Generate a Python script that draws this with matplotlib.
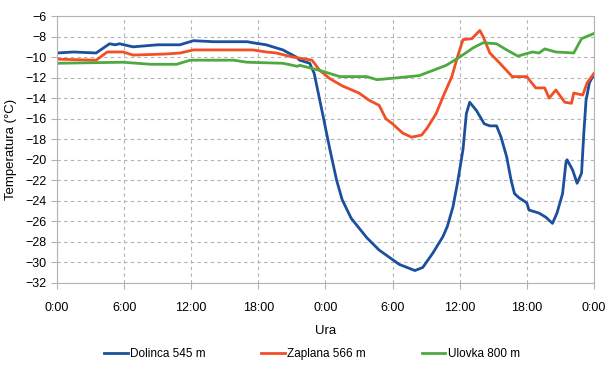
import matplotlib.pyplot as plt
from matplotlib.ticker import MultipleLocator

plt.rcParams['font.family'] = ['Liberation Sans', 'DejaVu Sans']

# hours since start (48 h) and temperature in deg C
dolinca_h = [0, 1.5, 3.5, 4.7, 5.2, 5.6, 6.8, 9, 11, 12.2, 14, 17, 17.5, 18.7, 20.2,
             21.4, 21.7, 22.6, 23, 23.8, 24.4, 25, 25.5, 26.3, 27.7, 28.8, 29.7,
             30.6, 32, 32.7, 33.6, 34.5, 34.9, 35.4, 35.8, 36.3, 36.6, 36.9, 37.5,
             38.2, 38.7, 39.3, 39.7, 40.2, 40.6, 40.9, 41.3, 42, 42.2, 43.1, 43.7,
             44.3, 44.7, 45.2, 45.5, 45.6, 46.1, 46.5, 46.9, 47.1, 47.3, 47.6, 48]
dolinca_t = [-9.6, -9.5, -9.6, -8.7, -8.8, -8.7, -9.0, -8.8, -8.8, -8.4, -8.5, -8.5, -8.6,
             -8.8, -9.3, -10.0, -10.3, -10.6, -11.6, -15.8, -19.0, -22.0, -23.9,
             -25.7, -27.6, -28.8, -29.5, -30.2, -30.8, -30.5, -29.1, -27.5, -26.5,
             -24.6, -22.3, -19.0, -15.5, -14.4, -15.2, -16.5, -16.7, -16.7, -17.8,
             -19.7, -22.0, -23.3, -23.7, -24.2, -24.9, -25.2, -25.6, -26.2, -25.2,
             -23.3, -20.3, -20.0, -21.0, -22.3, -21.3, -17.4, -14.2, -12.5, -11.7]

zaplana_h = [0, 3.5, 4.5, 5.9, 6.8, 9.7, 11, 12.2, 17.5, 18.7, 19.6, 21.1, 21.7, 22.8,
             23.5, 24.4, 25.5, 27, 27.9, 28.8, 29.4, 30, 30.9, 31.7, 32.6, 33.1,
             33.9, 34.5, 35.3, 35.8, 36.3, 37.1, 37.8, 38.1, 38.7, 39.6, 40.7, 42,
             42.8, 43.6, 44, 44.6, 45.4, 46, 46.2, 47, 47.4, 48]
zaplana_t = [-10.2, -10.3, -9.5, -9.5, -9.8, -9.7, -9.6, -9.3, -9.3, -9.5, -9.6, -10.0,
             -10.1, -10.3, -11.3, -12.1, -12.8, -13.5, -14.2, -14.7, -16.0, -16.5,
             -17.4, -17.8, -17.6, -16.9, -15.5, -13.9, -11.9, -10.0, -8.3, -8.2,
             -7.4, -8.0, -9.6, -10.6, -11.9, -11.9, -13.0, -13.0, -14.0, -13.2,
             -14.4, -14.5, -13.5, -13.7, -12.5, -11.6]

ulovka_h = [0, 5.9, 8.4, 10.7, 11.9, 15.8, 17, 20.2, 21.5, 21.7, 23.5, 25.3, 27.7, 28.6,
            30.6, 32.4, 33.6, 34.8, 36, 37.2, 38.1, 39.3, 40.2, 41.2, 42.5, 43.1,
            43.6, 44.6, 46.2, 46.9, 48]
ulovka_t = [-10.6, -10.5, -10.7, -10.7, -10.3, -10.3, -10.5, -10.6, -10.9, -10.8, -11.3,
            -11.9, -11.9, -12.2, -12.0, -11.8, -11.3, -10.8, -10.0, -9.1, -8.6,
            -8.7, -9.3, -9.9, -9.5, -9.6, -9.2, -9.5, -9.6, -8.2, -7.7]

xticks = [0, 6, 12, 18, 24, 30, 36, 42, 48]
xticklabels = ['0:00', '6:00', '12:00', '18:00', '0:00', '6:00', '12:00', '18:00', '0:00']

fig = plt.figure(figsize=(6.06, 3.65), dpi=100)
ax = fig.add_axes([0.094, 0.225, 0.886, 0.731])

ax.plot(dolinca_h, dolinca_t, color='#1c4f9c', lw=2, label='Dolinca 545 m')
ax.plot(zaplana_h, zaplana_t, color='#f24f26', lw=2, label='Zaplana 566 m')
ax.plot(ulovka_h, ulovka_t, color='#4ea940', lw=2, label='Ulovka 800 m')

ax.set_xlim(0, 48)
ax.set_ylim(-32, -6)
ax.set_xticks(xticks)
ax.set_xticklabels(xticklabels)
ax.yaxis.set_major_locator(MultipleLocator(2))
ax.grid(True, color='#b3b3b3', linestyle=(0, (3, 3)), linewidth=0.8)
for s in ax.spines.values():
    s.set_color('#b3b3b3')
ax.tick_params(colors='#b3b3b3', labelcolor='black', labelsize=9, length=4)
ax.tick_params(axis='x', pad=10)

ax.set_xlabel('Ura', fontsize=9.5, labelpad=8)
ax.set_ylabel('Temperatura (°C)', fontsize=9.5, labelpad=6)

fig.legend(loc='center', bbox_to_anchor=(0.515, 0.03), ncol=3, frameon=False,
           fontsize=8.5, handlelength=2.0, handletextpad=0.2, columnspacing=4.7)

fig.savefig('out.png', dpi=100)
